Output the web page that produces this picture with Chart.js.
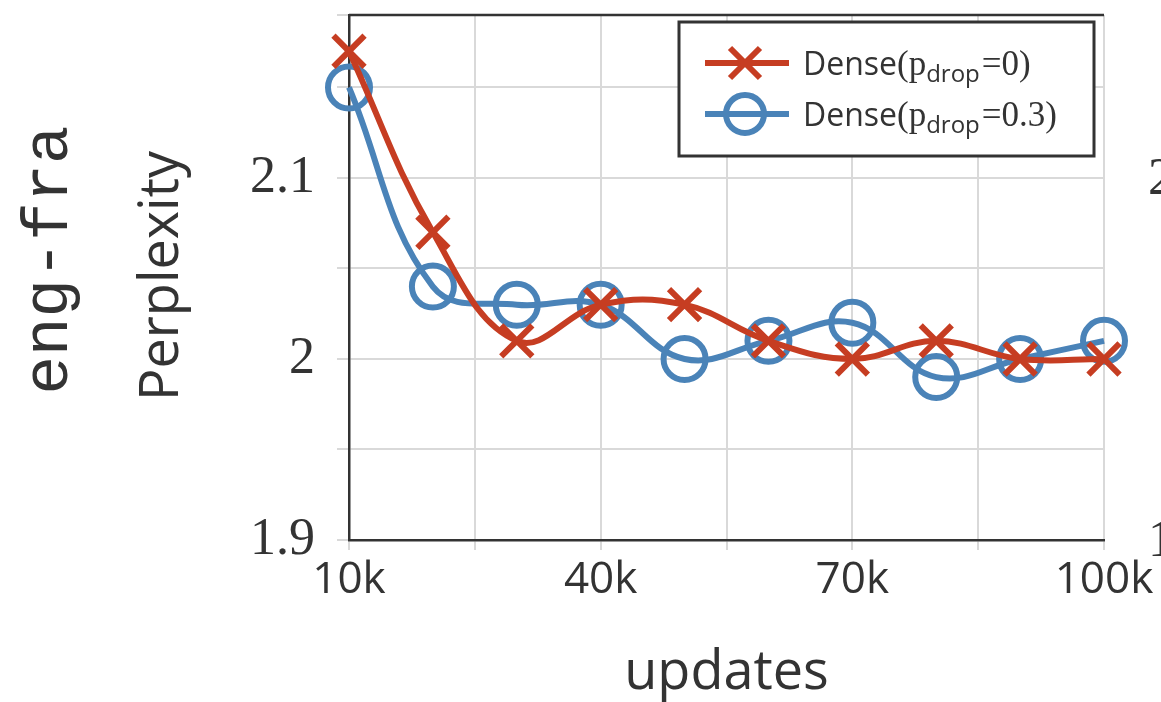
<!DOCTYPE html>
<html>
<head>
<meta charset="utf-8">
<script src="https://cdn.jsdelivr.net/npm/chart.js@4/dist/chart.umd.min.js"></script>
<style>
  html, body { margin: 0; padding: 0; background: #fff; }
  #wrap { width: 1161px; height: 702px; }
</style>
</head>
<body>
<div id="wrap"><canvas id="c" width="1161" height="702"></canvas></div>
<script>
// Training updates (x) and perplexity of the two dense models
const updates = [10000, 20000, 30000, 40000, 50000, 60000, 70000, 80000, 90000, 100000];
const denseNoDrop = [2.17, 2.07, 2.01, 2.03, 2.03, 2.01, 2.00, 2.01, 2.00, 2.00];
const denseDrop03 = [2.15, 2.04, 2.03, 2.03, 2.00, 2.01, 2.02, 1.99, 2.00, 2.01];
const xTickLabels = { 10000: '10k', 40000: '40k', 70000: '70k', 100000: '100k' };
const yTickLabels = { '1.9': '1.9', '2': '2', '2.1': '2.1' };

const RED = '#c63d22';
const BLUE = '#4a83b8';
const INK = '#333333';
const GRID = '#d9d9d9';

const toPoints = ys => ys.map((y, i) => ({ x: updates[i], y }));

// Frame, legend and outer labels
const decor = {
  id: 'decor',
  afterDraw(chart) {
    const { ctx, chartArea: a } = chart;
    ctx.save();
    // top frame line
    ctx.strokeStyle = INK;
    ctx.lineWidth = 2.5;
    ctx.beginPath();
    ctx.moveTo(a.left, a.top);
    ctx.lineTo(a.right, a.top);
    ctx.stroke();

    // legend box
    const bx = 679, by = 22, bw = 415, bh = 134;
    ctx.fillStyle = '#fff';
    ctx.fillRect(bx, by, bw, bh);
    ctx.strokeStyle = INK;
    ctx.lineWidth = 3;
    ctx.strokeRect(bx, by, bw, bh);

    const rows = [
      { color: RED, marker: 'cross', val: '0', y: 63 },
      { color: BLUE, marker: 'circle', val: '0.3', y: 114 }
    ];
    rows.forEach(r => {
      ctx.strokeStyle = r.color;
      ctx.lineWidth = 6;
      ctx.lineCap = 'butt';
      ctx.beginPath();
      ctx.moveTo(705, r.y);
      ctx.lineTo(789, r.y);
      ctx.stroke();
      ctx.beginPath();
      if (r.marker === 'cross') {
        const s = 15;
        ctx.moveTo(745 - s, r.y - s); ctx.lineTo(745 + s, r.y + s);
        ctx.moveTo(745 + s, r.y - s); ctx.lineTo(745 - s, r.y + s);
      } else {
        ctx.arc(745, r.y, 19, 0, Math.PI * 2);
      }
      ctx.stroke();

      // Dense(p_drop=value)
      ctx.fillStyle = INK;
      ctx.textBaseline = 'alphabetic';
      ctx.textAlign = 'left';
      let x = 803;
      const base = r.y + 12;
      ctx.font = '32px "Open Sans"';
      ctx.fillText('Dense', x, base);
      x += ctx.measureText('Dense').width;
      ctx.font = '35px "Liberation Serif"';
      ctx.fillText('(p', x, base);
      x += ctx.measureText('(p').width;
      ctx.font = '24px "Open Sans"';
      ctx.fillText('drop', x, base + 7);
      x += ctx.measureText('drop').width + 2;
      ctx.font = '35px "Liberation Serif"';
      ctx.fillText('=' + r.val + ')', x, base);
    });

    // axis titles
    ctx.fillStyle = INK;
    ctx.textAlign = 'center';
    ctx.textBaseline = 'middle';
    ctx.font = '54px "Open Sans"';
    ctx.fillText('updates', (a.left + a.right) / 2, 674);

    ctx.save();
    ctx.translate(163, 276);
    ctx.rotate(-Math.PI / 2);
    ctx.font = '54px "Open Sans"';
    ctx.fillText('Perplexity', 0, 0);
    ctx.restore();

    ctx.save();
    ctx.translate(50, 260);
    ctx.rotate(-Math.PI / 2);
    ctx.font = '64px "Liberation Mono", monospace';
    ctx.fillText('eng-fra', 0, 0);
    ctx.restore();

    // edge of the neighbouring panel's tick labels
    ctx.textAlign = 'left';
    ctx.font = '52px "Liberation Serif"';
    ctx.fillText('2', 1148, 180);
    ctx.fillText('1', 1148, 542);
    ctx.restore();
  }
};

new Chart(document.getElementById('c'), {
  type: 'line',
  data: {
    datasets: [
      {
        label: 'Dense(p_drop=0)',
        data: toPoints(denseNoDrop),
        borderColor: RED,
        backgroundColor: 'transparent',
        borderWidth: 6,
        tension: 0.4,
        pointStyle: 'crossRot',
        pointRadius: 22,
        pointBorderWidth: 6,
        pointBorderColor: RED,
        clip: false
      },
      {
        label: 'Dense(p_drop=0.3)',
        data: toPoints(denseDrop03),
        borderColor: BLUE,
        backgroundColor: 'transparent',
        borderWidth: 6,
        tension: 0.4,
        pointStyle: 'circle',
        pointRadius: 21,
        pointBorderWidth: 6,
        pointBorderColor: BLUE,
        pointBackgroundColor: 'transparent',
        clip: false
      }
    ]
  },
  options: {
    responsive: false,
    animation: false,
    events: [],
    layout: { autoPadding: false, padding: { left: 0, top: 15, right: 57, bottom: 0 } },
    plugins: { legend: { display: false }, tooltip: { enabled: false } },
    scales: {
      x: {
        type: 'linear',
        min: 10000,
        max: 100000,
        afterFit(s) { s.height = 162; s.paddingLeft = 0; s.paddingRight = 0; },
        border: { color: INK, width: 2.5 },
        grid: { color: GRID, lineWidth: 2, tickLength: 10, tickColor: GRID },
        ticks: {
          stepSize: 15000,
          autoSkip: false,
          maxRotation: 0,
          padding: 4,
          color: INK,
          font: { family: '"Open Sans"', size: 44 },
          callback: v => xTickLabels[v] || ''
        }
      },
      y: {
        min: 1.9,
        max: 2.19,
        afterFit(s) { s.width = 349; s.paddingTop = 0; s.paddingBottom = 0; },
        border: { color: INK, width: 2.5 },
        grid: { color: GRID, lineWidth: 2, tickLength: 12, tickColor: GRID },
        ticks: {
          stepSize: 0.05,
          autoSkip: false,
          padding: 22,
          color: INK,
          font: { family: '"Liberation Serif"', size: 52 },
          callback: v => yTickLabels[String(Math.round(v * 100) / 100)] || ''
        }
      }
    }
  },
  plugins: [decor]
});
</script>
</body>
</html>
